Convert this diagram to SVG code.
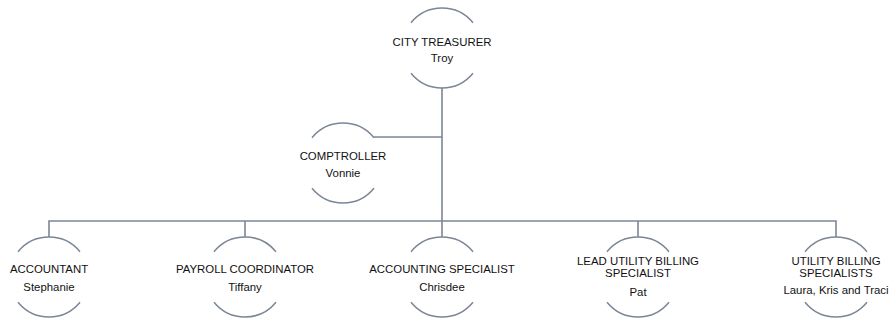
<svg xmlns="http://www.w3.org/2000/svg" width="895" height="322" viewBox="0 0 895 322">
<style>
.arc{fill:none;stroke:#7b8696;stroke-width:1.5}
.ln{fill:none;stroke:#7b8696;stroke-width:1.6}
text{font-family:"Liberation Sans",Arial,sans-serif;font-size:11.4px;fill:#111;text-anchor:middle}
</style>
<defs>
<g id="ring">
<path class="arc" d="M-31,-25.3 A40,40 0 0 1 31,-25.3"/>
<path class="arc" d="M-31,25.3 A40,40 0 0 0 31,25.3"/>
</g>
</defs>
<g id="connectors">
<path class="ln" d="M442,88 V221"/>
<path class="ln" d="M374,137 H442"/>
<path class="ln" d="M49,237 V221 H836 V237"/>
<path class="ln" d="M245,221 V237"/>
<path class="ln" d="M442,221 V237"/>
<path class="ln" d="M638,221 V237"/>
</g>
<g id="city-treasurer" transform="translate(442,48)">
<use href="#ring"/>
<text x="0" y="-2">CITY TREASURER</text>
<text x="0" y="14">Troy</text>
</g>
<g id="comptroller" transform="translate(343,163)">
<use href="#ring"/>
<text x="0" y="-3">COMPTROLLER</text>
<text x="0" y="14">Vonnie</text>
</g>
<g id="accountant" transform="translate(49,277)">
<use href="#ring"/>
<text x="0" y="-4">ACCOUNTANT</text>
<text x="0" y="14">Stephanie</text>
</g>
<g id="payroll" transform="translate(245,277)">
<use href="#ring"/>
<text x="0" y="-4">PAYROLL COORDINATOR</text>
<text x="0" y="14">Tiffany</text>
</g>
<g id="accounting-specialist" transform="translate(442,277)">
<use href="#ring"/>
<text x="0" y="-4">ACCOUNTING SPECIALIST</text>
<text x="0" y="14">Chrisdee</text>
</g>
<g id="lead-utility" transform="translate(638,277)">
<use href="#ring"/>
<text x="0" y="-12">LEAD UTILITY BILLING</text>
<text x="0" y="0">SPECIALIST</text>
<text x="0" y="19">Pat</text>
</g>
<g id="utility-billing" transform="translate(836,277)">
<use href="#ring"/>
<text x="0" y="-12">UTILITY BILLING</text>
<text x="0" y="0">SPECIALISTS</text>
<text x="0" y="17">Laura, Kris and Traci</text>
</g>
</svg>
